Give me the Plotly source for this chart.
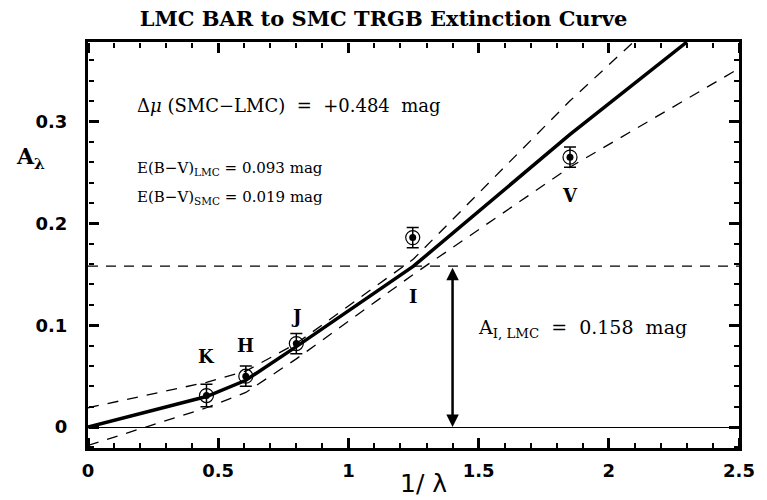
import plotly.graph_objects as go

# ---- data ----
bands = ["K", "H", "J", "I", "V"]
inv_lambda = [0.455, 0.606, 0.800, 1.247, 1.851]
A_obs = [0.031, 0.050, 0.082, 0.186, 0.265]
A_err = [0.011, 0.010, 0.010, 0.010, 0.010]

curve_x = [0.0, 0.455, 0.606, 0.800, 1.250, 1.850, 2.300]
curve_y = [0.0, 0.030, 0.046, 0.079, 0.158, 0.287, 0.378]

upper_x = [0.0, 0.455, 0.606, 0.800, 1.250, 1.850, 2.200]
upper_y = [0.019, 0.044, 0.055, 0.082, 0.165, 0.320, 0.403]

lower_x = [0.0, 0.455, 0.606, 0.800, 1.250, 1.850, 2.500]
lower_y = [-0.018, 0.019, 0.034, 0.067, 0.150, 0.255, 0.352]

A_I_LMC = 0.158
arrow_x = 1.40
x_ticks = [0, 0.5, 1, 1.5, 2, 2.5]
y_ticks = [0, 0.1, 0.2, 0.3]

label_y = [0.069, 0.080, 0.109, 0.128, 0.227]

SERIF = "DejaVu Serif"
SANS = "DejaVu Sans"
X_RANGE = [0, 2.5]
Y_RANGE = [-0.0205, 0.378]

fig = go.Figure()

for xs, ys in [(upper_x, upper_y), (lower_x, lower_y)]:
    fig.add_trace(go.Scatter(x=xs, y=ys, mode="lines",
                             line=dict(color="black", width=1.3, dash="11px,9px"),
                             hoverinfo="skip", showlegend=False))

fig.add_trace(go.Scatter(x=[x_ticks[0], x_ticks[-1]], y=[A_I_LMC, A_I_LMC], mode="lines",
                         line=dict(color="black", width=1.1, dash="10px,8px"),
                         hoverinfo="skip", showlegend=False))

fig.add_trace(go.Scatter(x=curve_x, y=curve_y, mode="lines",
                         line=dict(color="black", width=3.5),
                         hoverinfo="skip", showlegend=False))

fig.add_trace(go.Scatter(x=inv_lambda, y=A_obs, mode="markers",
                         marker=dict(symbol="circle-open", size=14, color="black",
                                     line=dict(width=1.2, color="black")),
                         error_y=dict(type="data", array=A_err, visible=True,
                                      color="black", thickness=1.5, width=6),
                         showlegend=False))
fig.add_trace(go.Scatter(x=inv_lambda, y=A_obs, mode="markers",
                         marker=dict(symbol="circle", size=7, color="black"),
                         showlegend=False))

# invisible carriers so the tick-only overlay axes are drawn
for xa, ya in [("x2", "y"), ("x3", "y"), ("x", "y2"), ("x", "y3")]:
    fig.add_trace(go.Scatter(x=curve_x, y=curve_y, xaxis=xa, yaxis=ya, mode="lines",
                             line=dict(width=0, color="rgba(0,0,0,0)"),
                             hoverinfo="skip", showlegend=False))

for b, xv, yv in zip(bands, inv_lambda, label_y):
    fig.add_annotation(x=xv, y=yv, text=b, showarrow=False,
                       font=dict(family=SERIF, size=18, color="black", weight="bold"))

fig.add_annotation(x=arrow_x, y=0, ax=arrow_x, ay=A_I_LMC, xref="x", yref="y",
                   axref="x", ayref="y", showarrow=True, arrowside="end+start",
                   arrowhead=2, arrowsize=1.0, arrowwidth=2.5, arrowcolor="black",
                   standoff=0, startstandoff=0, text="")

fig.add_annotation(x=0.179, y=0.316, xanchor="left", showarrow=False,
                   text="Δ<i>μ</i> (SMC−LMC)  =  +0.484  mag",
                   font=dict(family=SERIF, size=18, color="black"))
fig.add_annotation(x=0.179, y=0.254, xanchor="left", showarrow=False,
                   text="E(B−V)<sub>LMC</sub> = 0.093 mag",
                   font=dict(family=SERIF, size=15, color="black"))
fig.add_annotation(x=0.179, y=0.225, xanchor="left", showarrow=False,
                   text="E(B−V)<sub>SMC</sub> = 0.019 mag",
                   font=dict(family=SERIF, size=15, color="black"))
fig.add_annotation(x=1.489, y=0.097, xanchor="left", showarrow=False,
                   text="A<sub>I, LMC</sub>  =  0.158  mag",
                   font=dict(family=SERIF, size=19, color="black"))

fig.add_annotation(xref="paper", yref="paper", x=-0.089, y=0.715, showarrow=False,
                   xanchor="center", yanchor="middle",
                   text="A<sub>λ</sub>",
                   font=dict(family=SERIF, size=22, color="black", weight="bold"))
fig.add_annotation(xref="paper", yref="paper", x=0.515, y=-0.088, showarrow=False,
                   text="1/ λ", xanchor="center", yanchor="middle",
                   font=dict(family=SANS, size=25, color="black"))

tickfont = dict(family=SANS, size=18, color="black", weight="bold")
tick_style = dict(ticks="outside", ticklen=10, tickwidth=2.5, tickcolor="#000000")
x_minor = dict(dtick=0.1, ticks="outside", ticklen=5, tickwidth=2, tickcolor="#000000")
y_minor = dict(dtick=0.02, ticks="outside", ticklen=5, tickwidth=2, tickcolor="#000000")

fig.update_layout(
    width=767, height=500,
    margin=dict(l=88, r=21, t=42, b=52),
    paper_bgcolor="white", plot_bgcolor="white",
    title=dict(text="LMC BAR to SMC TRGB Extinction Curve", x=0.5, xanchor="center",
               y=0.962, yanchor="middle",
               font=dict(family=SERIF, size=21, color="black", weight="bold")),
    showlegend=False,
    xaxis=dict(range=X_RANGE, tickmode="linear", tick0=0, dtick=0.5, ticks="",
               showline=True, linewidth=3, linecolor="#000000", mirror=True,
               showgrid=False, zeroline=False, tickfont=tickfont, ticklabelstandoff=4),
    yaxis=dict(range=Y_RANGE, tickmode="linear", tick0=0, dtick=0.1, ticks="",
               showline=True, linewidth=3, linecolor="#000000", mirror=True,
               showgrid=False, tickfont=tickfont, ticklabelstandoff=14,
               zeroline=True, zerolinecolor="black", zerolinewidth=1.2),
    # tick-only axes placed on the opposite side so their ticks point inward
    xaxis2=dict(range=X_RANGE, overlaying="x", side="top", anchor="free", position=0,
                tickmode="linear", tick0=0, dtick=0.5, showticklabels=False,
                showline=False, showgrid=False, zeroline=False, minor=x_minor,
                **tick_style),
    xaxis3=dict(range=X_RANGE, overlaying="x", side="bottom", anchor="free", position=1,
                tickmode="linear", tick0=0, dtick=0.5, showticklabels=False,
                showline=False, showgrid=False, zeroline=False, minor=x_minor,
                **tick_style),
    yaxis2=dict(range=Y_RANGE, overlaying="y", side="right", anchor="free", position=0,
                tickmode="linear", tick0=0, dtick=0.1, showticklabels=False,
                showline=False, showgrid=False, zeroline=False, minor=y_minor,
                **tick_style),
    yaxis3=dict(range=Y_RANGE, overlaying="y", side="left", anchor="free", position=1,
                tickmode="linear", tick0=0, dtick=0.1, showticklabels=False,
                showline=False, showgrid=False, zeroline=False, minor=y_minor,
                **tick_style),
)

fig.write_html("out.html")
